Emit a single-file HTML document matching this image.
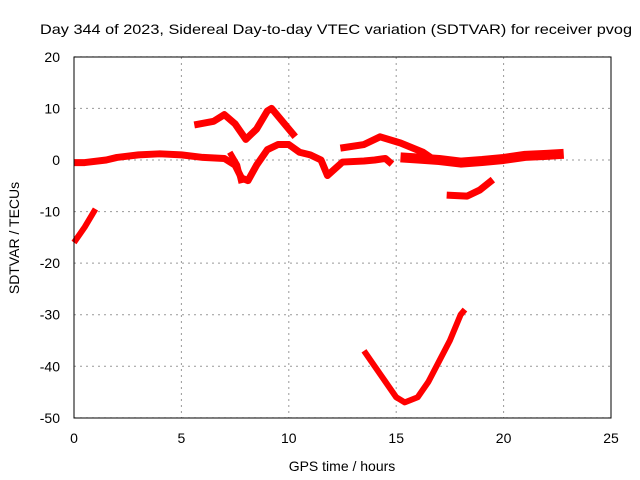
<!DOCTYPE html>
<html><head><meta charset="utf-8"><style>
html,body{margin:0;padding:0;background:#fff;}
svg{display:block;font-family:"Liberation Sans",sans-serif;}
</style></head><body>
<svg id="chart" width="640" height="480">
<text x="40" y="34" font-size="14" textLength="592" lengthAdjust="spacingAndGlyphs">Day 344 of 2023, Sidereal Day-to-day VTEC variation (SDTVAR) for receiver pvog</text>
<g id="grid"></g>
<g id="series"></g>
<rect x="74" y="57" width="537" height="361" fill="none" stroke="#000" stroke-width="1"/>
<g id="ticks" font-size="14"></g>
<text x="342" y="471" font-size="14" text-anchor="middle">GPS time / hours</text>
<text transform="translate(19,238) rotate(-90)" font-size="14" text-anchor="middle">SDTVAR / TECUs</text>
</svg>
<script>
const xTicks=[0,5,10,15,20,25];
const yTicks=[20,10,0,-10,-20,-30,-40,-50];
const trackBase1=[[0,-0.5],[0.5,-0.5],[1.5,0],[2,0.5],[3,1],[4,1.2],[5,1],[6,0.5],[7,0.3],[7.5,-1],[7.8,-3.5],[8.1,-4],[8.5,-1],[9,2],[9.5,3],[10,3],[10.5,1.5],[11,1],[11.5,0],[11.8,-3],[12.5,-0.4],[13.5,-0.2],[14,0],[14.5,0.3],[14.8,-0.8]];
const trackBase2=[[15.2,0.5],[16,0.3],[17,0],[18,-0.5],[19,-0.2],[20,0.2],[21,0.8],[22,1],[22.8,1.2]];
const trackUpper1=[[5.6,6.8],[6.5,7.5],[7,8.8],[7.5,7],[8,4],[8.5,6],[9,9.5],[9.2,10],[9.8,7],[10.3,4.5]];
const trackBranch=[[7.25,1.5],[7.6,-1],[7.8,-4.5]];
const trackUpper2=[[12.4,2.3],[13.5,3],[14.25,4.5],[15.2,3.3],[16.25,1.5],[16.6,0.5]];
const trackLate=[[17.35,-6.8],[18.3,-7],[18.9,-5.8],[19.5,-3.8]];
const trackStart=[[0,-16],[0.5,-13],[1,-9.5]];
const trackVee=[[13.5,-37],[14,-40],[14.5,-43],[15,-46],[15.4,-47],[16,-46],[16.5,-43],[17,-39],[17.5,-35],[18,-30],[18.2,-29]];
const tracks=[trackBase1,trackBase2,trackUpper1,trackBranch,trackUpper2,trackLate,trackStart,trackVee];
const widths=[7,10,7,6,7,7,6,6];
const X=v=>74+v*537/25, Y=v=>160-v*361/70;
const NS="http://www.w3.org/2000/svg";
const grid=document.getElementById('grid'),ticks=document.getElementById('ticks'),ser=document.getElementById('series');
xTicks.forEach(t=>{
 const l=document.createElementNS(NS,'line');
 
 
 l.setAttribute('x1',X(t));l.setAttribute('x2',X(t));l.setAttribute('y1',57);l.setAttribute('y2',418);
 l.setAttribute('stroke','#999');l.setAttribute('stroke-dasharray','2,4');grid.appendChild(l);
 const tx=document.createElementNS(NS,'text');
 
 
 tx.setAttribute('x',X(t));tx.setAttribute('y',443);tx.setAttribute('text-anchor','middle');tx.textContent=t;ticks.appendChild(tx);
});
yTicks.forEach(t=>{
 const l=document.createElementNS(NS,'line');
 
 
 l.setAttribute('x1',74);l.setAttribute('x2',611);l.setAttribute('y1',Y(t));l.setAttribute('y2',Y(t));
 l.setAttribute('stroke','#999');l.setAttribute('stroke-dasharray','2,4');grid.appendChild(l);
 const tx=document.createElementNS(NS,'text');
 
 
 tx.setAttribute('x',60);tx.setAttribute('y',Y(t)+5);tx.setAttribute('text-anchor','end');tx.textContent=t;ticks.appendChild(tx);
});
tracks.forEach((tr,i)=>{
 const p=document.createElementNS(NS,'polyline');
 
 
 p.setAttribute('points',tr.map(d=>X(d[0])+','+Y(d[1])).join(' '));
 p.setAttribute('fill','none');p.setAttribute('stroke','#f00');p.setAttribute('stroke-width',widths[i]);
 p.setAttribute('stroke-linejoin','round');ser.appendChild(p);
});
</script>
</body></html>
